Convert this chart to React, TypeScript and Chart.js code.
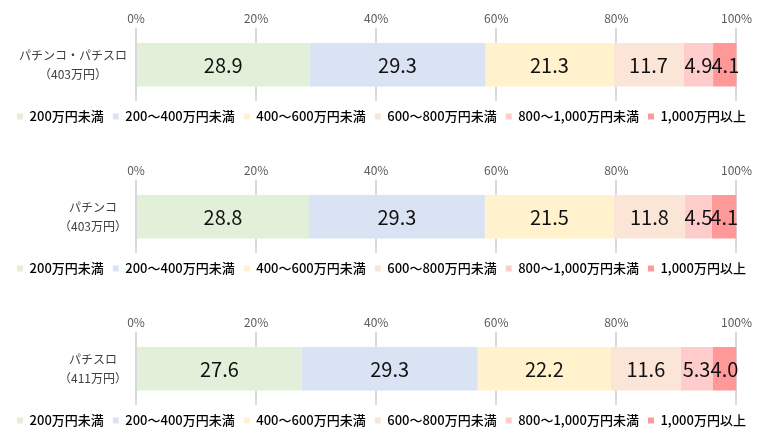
import React, { useEffect, useRef } from "react";
import { Chart, registerables } from "chart.js";

Chart.register(...registerables);

const incomeBands = [
  "200万円未満",
  "200～400万円未満",
  "400～600万円未満",
  "600～800万円未満",
  "800～1,000万円未満",
  "1,000万円以上",
];
const bandColors = ["#E2F0D9", "#DAE3F3", "#FFF2CC", "#FBE5D6", "#FFCCCC", "#FF9999"];

const groupAllLabel = ["パチンコ・パチスロ", "（403万円）"];
const groupPachinkoLabel = ["パチンコ", "（403万円）"];
const groupSlotLabel = ["パチスロ", "（411万円）"];

const allValues = [28.9, 29.3, 21.3, 11.7, 4.9, 4.1];
const pachinkoValues = [28.8, 29.3, 21.5, 11.8, 4.5, 4.1];
const slotValues = [27.6, 29.3, 22.2, 11.6, 5.3, 4.0];

const axisTicks = [0, 20, 40, 60, 80, 100];

const FONT = "'Noto Sans CJK JP', 'Noto Sans', sans-serif";

const valueLabelPlugin = {
  id: "valueLabels",
  afterDatasetsDraw(chart: any) {
    const ctx = chart.ctx;
    ctx.save();
    ctx.font = `20px ${FONT}`;
    ctx.fillStyle = "#111111";
    ctx.textAlign = "center";
    ctx.textBaseline = "middle";
    chart.data.datasets.forEach((ds: any, di: number) => {
      const meta = chart.getDatasetMeta(di);
      meta.data.forEach((el: any, i: number) => {
        const v = ds.data[i];
        const x = (el.x + el.base) / 2;
        ctx.fillText(Number(v).toFixed(1), x, el.y + 1);
      });
    });
    ctx.restore();
  },
};

function StackedBar({ label, values }: { label: string[]; values: number[] }) {
  const ref = useRef<HTMLCanvasElement | null>(null);
  useEffect(() => {
    if (!ref.current) return;
    const chart = new Chart(ref.current, {
      type: "bar",
      data: {
        labels: [label],
        datasets: incomeBands.map((name, i) => ({
          label: name,
          data: [values[i]],
          backgroundColor: bandColors[i],
          borderWidth: 0,
          categoryPercentage: 1,
          barPercentage: 0.6,
        })),
      },
      options: {
        indexAxis: "y",
        responsive: false,
        animation: false,
        layout: { padding: { top: 0, right: 0, bottom: 27, left: 0 } },
        plugins: {
          tooltip: { enabled: false },
          legend: {
            position: "bottom",
            labels: {
              boxWidth: 6,
              boxHeight: 6,
              padding: 9,
              color: "#000000",
              font: { family: FONT, size: 13, weight: "500" },
            },
          },
        },
        scales: {
          x: {
            position: "top",
            stacked: true,
            min: 0,
            max: 100,
            afterBuildTicks: (scale: any) => {
              scale.ticks = axisTicks.map((v) => ({ value: v }));
            },
            ticks: {
              padding: 3,
              color: "#595959",
              font: { family: FONT, size: 12 },
              callback: (v: any) => `${v}%`,
            },
            grid: { color: "#D9D9D9", lineWidth: 2, drawTicks: false },
            border: { display: false },
          },
          y: {
            stacked: true,
            grid: { display: false, drawTicks: false },
            border: { display: false },
            afterFit: (scale: any) => {
              scale.width = 128;
              scale.paddingTop = 0;
              scale.paddingBottom = 0;
            },
            ticks: {
              crossAlign: "center",
              padding: 9,
              color: "#404040",
              font: { family: FONT, size: 12, lineHeight: 1.6 },
            },
          },
        },
      },
      plugins: [valueLabelPlugin],
    } as any);
    return () => chart.destroy();
  }, []);
  return <canvas ref={ref} width={747} height={152} style={{ display: "block" }} />;
}

export default function App() {
  return (
    <div style={{ width: 747 }}>
      <StackedBar label={groupAllLabel} values={allValues} />
      <StackedBar label={groupPachinkoLabel} values={pachinkoValues} />
      <StackedBar label={groupSlotLabel} values={slotValues} />
    </div>
  );
}
